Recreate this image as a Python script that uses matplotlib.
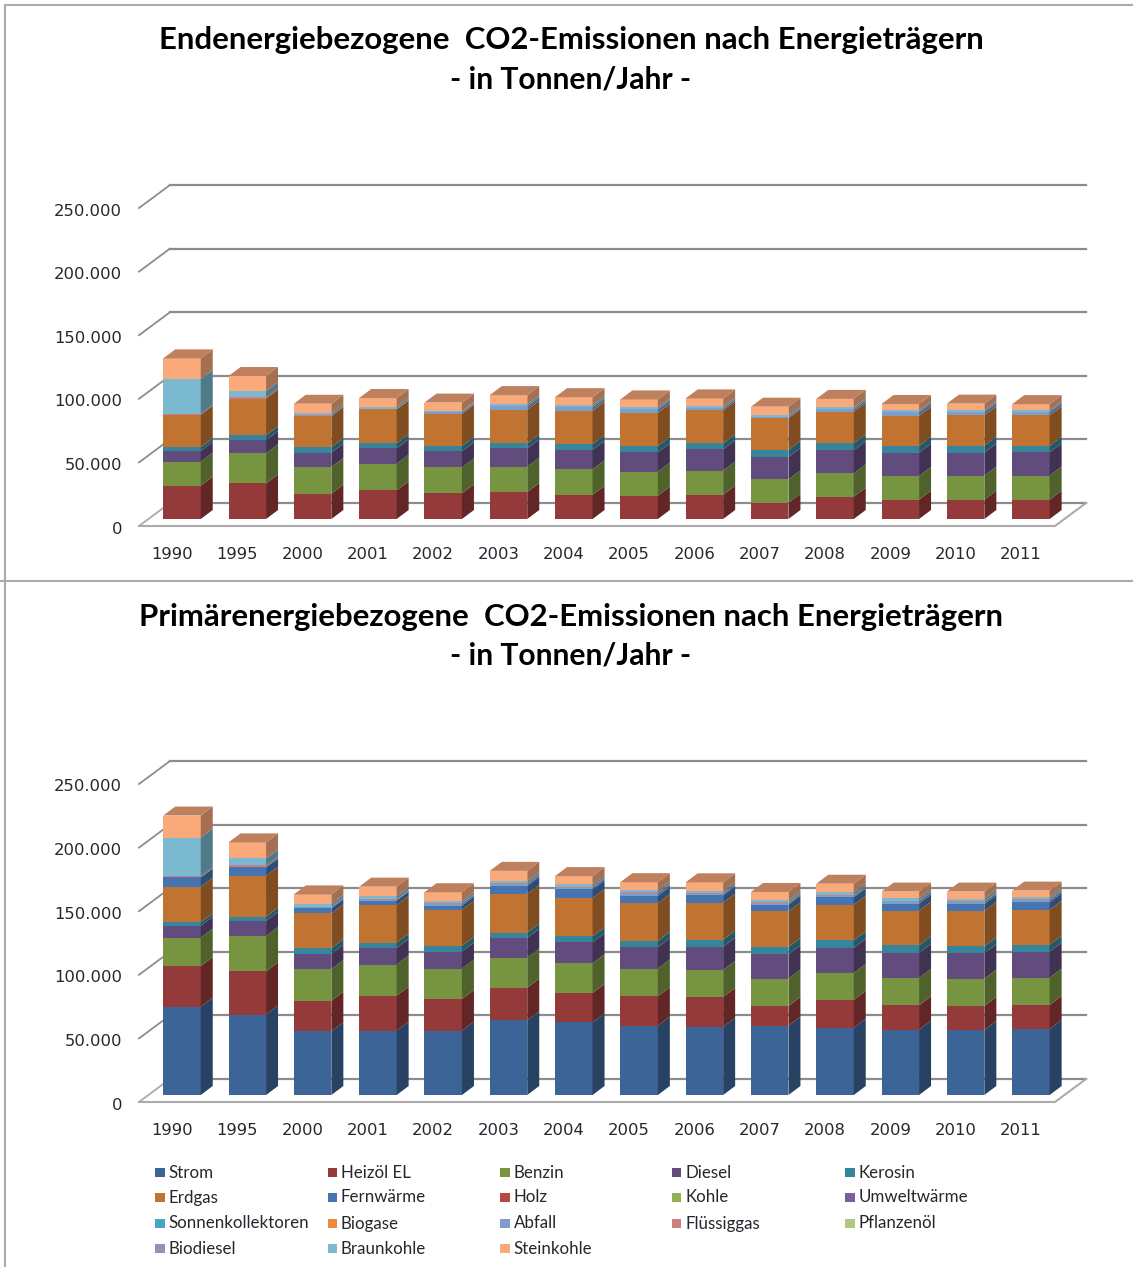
import matplotlib
matplotlib.use("Agg")
import matplotlib.pyplot as plt
from matplotlib.colors import to_rgb
from matplotlib.lines import Line2D
from matplotlib.patches import Rectangle
from matplotlib.transforms import ScaledTranslation

plt.rcParams['font.family'] = ['Lato', 'DejaVu Sans']

years = ['1990','1995','2000','2001','2002','2003','2004','2005','2006','2007','2008','2009','2010','2011']
series_names = ['Strom','Heizöl EL','Benzin','Diesel','Kerosin','Erdgas','Fernwärme','Holz','Kohle','Umweltwärme',
                'Sonnenkollektoren','Biogase','Abfall','Flüssiggas','Pflanzenöl','Biodiesel','Braunkohle','Steinkohle']
colors = ['#3C6496','#953A3A','#779441','#624C7D','#36859D','#C17431','#4674B0','#B64744','#92B14F','#7A5EA0',
          '#46A5C0','#EC8B3E','#7F9CCB','#CE7E7C','#AFC77E','#9F8AB8','#7BB9D0','#FAA97A']
y_ticks = [0, 50000, 100000, 150000, 200000, 250000]
y_labels = ['0','50.000','100.000','150.000','200.000','250.000']

# Endenergie, in 1000 t/a
end_heizoel = [26.2,28.0,19.9,22.5,20.2,21.2,18.9,18.3,19.1,12.8,17.6,15.2,15.2,15.2]
end_benzin  = [18.9,23.6,21.0,21.0,20.4,19.9,20.2,18.9,18.9,18.3,18.3,18.6,18.9,18.9]
end_diesel  = [8.4,10.5,11.3,12.1,12.6,14.4,15.2,15.2,16.8,17.6,18.1,18.3,18.1,18.3]
end_kerosin = [2.9,3.7,4.2,3.9,4.2,3.9,4.5,5.0,4.7,5.5,5.5,5.5,5.5,5.2]
end_erdgas  = [25.7,28.8,24.6,26.7,25.2,26.5,26.2,25.9,25.9,24.9,24.9,23.6,23.8,23.8]
end_abfall  = [0,0,0.3,0.3,1.2,2.7,2.7,2.9,1.6,1.1,1.9,2.7,2.7,2.7]
end_fluess  = [0.5,1.0,0.2,0.2,0.2,0.2,0.2,0.2,0.2,0.2,0.2,0.2,0.2,0.2]
end_braun   = [27.5,5.0,1.8,1.6,0.7,1.5,1.6,1.3,1.3,1.3,1.3,1.3,1.3,1.3]
end_stein   = [16.2,11.8,7.3,6.8,6.8,7.1,6.3,6.3,6.3,6.6,6.6,5.0,5.0,4.7]

# Primaerenergie, in 1000 t/a
pri_strom   = [69.4,63.2,50.0,50.6,50.6,58.7,57.1,54.5,53.5,54.5,52.9,51.4,51.1,51.9]
pri_heizoel = [32.0,34.0,24.1,27.5,24.9,25.7,23.1,23.1,23.6,15.5,21.8,19.1,18.9,18.9]
pri_benzin  = [22.3,27.8,24.9,24.4,23.8,23.6,23.3,21.8,21.2,21.5,21.2,21.5,21.5,21.5]
pri_diesel  = [9.4,11.8,12.0,13.1,13.4,15.5,16.5,16.8,18.3,19.1,19.7,19.7,19.9,20.4]
pri_kerosin = [2.6,3.4,4.5,4.2,4.5,4.2,4.7,5.0,5.5,5.8,6.0,6.0,5.5,5.5]
pri_erdgas  = [28.0,32.2,27.3,29.6,28.3,30.4,30.1,29.6,29.1,28.0,28.0,27.3,27.8,27.5]
pri_fernw   = [7.3,6.5,3.9,3.4,3.4,6.3,6.8,5.8,5.8,5.2,5.8,5.5,5.5,5.8]
pri_abfall  = [0.2,0.6,0.8,0.8,1.3,1.5,1.5,2.0,1.1,1.3,1.3,1.9,1.6,1.9]
pri_fluess  = [0.8,1.0,0.5,0.5,0.5,0.6,0.6,0.6,0.5,0.5,0.5,0.5,0.5,0.5]
pri_braun   = [30.4,5.5,2.1,2.1,1.6,1.8,1.8,1.8,1.8,1.6,2.1,1.8,2.1,1.6]
pri_stein   = [17.3,12.6,7.6,7.6,7.1,7.9,6.6,6.3,6.8,6.6,6.8,5.2,5.5,5.2]

end_data = {'Heizöl EL':end_heizoel,'Benzin':end_benzin,'Diesel':end_diesel,'Kerosin':end_kerosin,'Erdgas':end_erdgas,
            'Abfall':end_abfall,'Flüssiggas':end_fluess,'Braunkohle':end_braun,'Steinkohle':end_stein}
pri_data = {'Strom':pri_strom,'Heizöl EL':pri_heizoel,'Benzin':pri_benzin,'Diesel':pri_diesel,'Kerosin':pri_kerosin,
            'Erdgas':pri_erdgas,'Fernwärme':pri_fernw,'Abfall':pri_abfall,'Flüssiggas':pri_fluess,
            'Braunkohle':pri_braun,'Steinkohle':pri_stein}

W, H, DPI = 1133, 1267, 100
fig = plt.figure(figsize=(W/DPI, H/DPI), dpi=DPI, facecolor='white')
PT = 72/DPI

PX_PER_UNIT_Y = 63.6/50000
CAT0_PX, CAT_STEP = 182.0, 65.3
BAR_W = 37.5/CAT_STEP
AX_L, AX_R = 139, 1086
DX_BAR, DY_BAR = 12, 9
WALL_DX, WALL_DY = 31, 23
GRID = '#8C8C8C'
FLOOR = '#ABABAB'
TXT = '#26262E'

def shade(c, f):
    return tuple(v*f for v in to_rgb(c))

def draw_chart(base_px, data, title1):
    top_px = base_px - 340
    bottom_px = base_px + 7
    ax = fig.add_axes([AX_L/W, 1-bottom_px/H, (AX_R-AX_L)/W, (bottom_px-top_px)/H])
    ax.set_xlim((AX_L-CAT0_PX)/CAT_STEP, (AX_R-CAT0_PX)/CAT_STEP)
    ax.set_ylim(-7/PX_PER_UNIT_Y, (base_px-top_px)/PX_PER_UNIT_Y)
    ax.patch.set_visible(False)
    for s in ax.spines.values():
        s.set_visible(False)
    dxd = 1/CAT_STEP
    dyd = 1/PX_PER_UNIT_Y
    xl, xr = ax.get_xlim()
    yb = ax.get_ylim()[0]
    # walls and floor
    for v in y_ticks:
        ax.plot([xl, xl+WALL_DX*dxd], [yb+v, yb+v+WALL_DY*dyd], color=GRID if v else FLOOR, lw=1.3, zorder=1, clip_on=False)
        ax.plot([xl+WALL_DX*dxd, xr], [yb+v+WALL_DY*dyd]*2, color=GRID, lw=1.6, zorder=1, clip_on=False)
    ax.plot([xl, xr-WALL_DX*dxd, xr], [yb, yb, yb+WALL_DY*dyd], color=FLOOR, lw=1.5, zorder=1, clip_on=False)
    # bars
    n = len(years)
    for i in range(n):
        bottom = 0.0
        x0, x1 = i-BAR_W/2, i+BAR_W/2
        last = None
        for name, col in zip(series_names, colors):
            if name not in data or data[name][i] <= 0:
                continue
            h = data[name][i]*1000
            ax.bar(i, h, BAR_W, bottom=bottom, color=col, linewidth=0, zorder=3, clip_on=False)
            ax.fill([x1, x1+DX_BAR*dxd, x1+DX_BAR*dxd, x1],
                    [bottom, bottom+DY_BAR*dyd, bottom+h+DY_BAR*dyd, bottom+h],
                    color=shade(col, 0.66), linewidth=0, zorder=3, clip_on=False)
            bottom += h
            last = col
        ax.fill([x0, x1, x1+DX_BAR*dxd, x0+DX_BAR*dxd],
                [bottom, bottom, bottom+DY_BAR*dyd, bottom+DY_BAR*dyd],
                color=shade(last, 0.76), linewidth=0, zorder=3, clip_on=False)
    # axis labels
    ax.set_xticks(range(n), years)
    ax.set_yticks(y_ticks, y_labels)
    ax.tick_params(axis='both', length=0, labelsize=16.4*PT, labelcolor=TXT)
    ax.tick_params(axis='x', pad=21*PT)
    ax.tick_params(axis='y', pad=(AX_L-122)*PT)
    off_x = ScaledTranslation(-10*PT/72, 0, fig.dpi_scale_trans)
    off_y = ScaledTranslation(0, -8.5*PT/72, fig.dpi_scale_trans)
    for t in ax.get_xticklabels():
        t.set_family('DejaVu Sans')
        t.set_transform(t.get_transform()+off_x)
    for t in ax.get_yticklabels():
        t.set_family('DejaVu Sans')
        t.set_transform(t.get_transform()+off_y)
    # titles
    y1 = base_px - 480
    fig.text(571/W, 1-(y1+1.5)/H, title1, ha='center', va='center', fontsize=31.2*PT, fontweight='bold', color='black')
    fig.text(571/W, 1-(y1+40)/H, '- in Tonnen/Jahr -', ha='center', va='center', fontsize=30*PT, fontweight='bold', color='black')
    return ax

draw_chart(519, end_data, 'Endenergiebezogene  CO2-Emissionen nach Energieträgern')
draw_chart(1095, pri_data, 'Primärenergiebezogene  CO2-Emissionen nach Energieträgern')

# legend
LEG_X = [155, 327.5, 500, 672, 845]
LEG_Y = [1172, 1197, 1223, 1248]
for k, (name, col) in enumerate(zip(series_names, colors)):
    r, c = divmod(k, 5)
    fig.add_artist(Rectangle((LEG_X[c]/W, 1-(LEG_Y[r]+4.5)/H), 9.5/W, 9/H, transform=fig.transFigure, facecolor=col, edgecolor='none'))
    fig.text((LEG_X[c]+13.5)/W, 1-(LEG_Y[r]+5.5)/H, name, ha='left', va='baseline', fontsize=16.9*PT, color=TXT)

# frame lines from the screenshot
for xs, ys in [((5, W), (5, 5)), ((5, 5), (5, H)), ((0, W), (581, 581))]:
    fig.add_artist(Line2D([x/W for x in xs], [1-y/H for y in ys], transform=fig.transFigure, color='#ABABAB', lw=1.5))

fig.savefig('out.png', dpi=DPI)
